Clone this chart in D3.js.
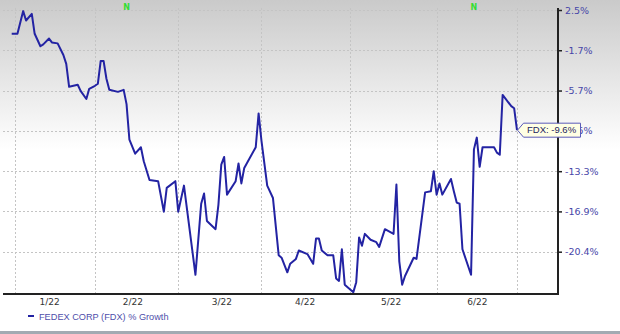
<!DOCTYPE html>
<html>
<head>
<meta charset="utf-8">
<script src="https://cdn.jsdelivr.net/npm/d3@7"></script>
<style>
  html, body { margin: 0; padding: 0; background: #fff; }
  svg { display: block; }
</style>
</head>
<body>
<svg id="chart" width="620" height="334"></svg>
<script>
// FDX % growth since 12/31/2021 (line vertices)
const dates = [
  '2021-12-31', '2022-01-02', '2022-01-04', '2022-01-05', '2022-01-07', '2022-01-08',
  '2022-01-10', '2022-01-11', '2022-01-13', '2022-01-14', '2022-01-16', '2022-01-18',
  '2022-01-19', '2022-01-20', '2022-01-23', '2022-01-24', '2022-01-26', '2022-01-27',
  '2022-01-29', '2022-01-30', '2022-01-31', '2022-02-01', '2022-02-02', '2022-02-03',
  '2022-02-06', '2022-02-08', '2022-02-09', '2022-02-10', '2022-02-12', '2022-02-14',
  '2022-02-15', '2022-02-17', '2022-02-20', '2022-02-22', '2022-02-23', '2022-02-26',
  '2022-02-27', '2022-03-01', '2022-03-05', '2022-03-07', '2022-03-08', '2022-03-09',
  '2022-03-12', '2022-03-13', '2022-03-14', '2022-03-15', '2022-03-16', '2022-03-19',
  '2022-03-20', '2022-03-21', '2022-03-22', '2022-03-26', '2022-03-27', '2022-03-28',
  '2022-03-30', '2022-04-01', '2022-04-03', '2022-04-04', '2022-04-06', '2022-04-07',
  '2022-04-09', '2022-04-10', '2022-04-13', '2022-04-15', '2022-04-16', '2022-04-17',
  '2022-04-18', '2022-04-20', '2022-04-22', '2022-04-23', '2022-04-24', '2022-04-25',
  '2022-04-26', '2022-04-29', '2022-04-30', '2022-05-01', '2022-05-02', '2022-05-03',
  '2022-05-05', '2022-05-07', '2022-05-08', '2022-05-10', '2022-05-13', '2022-05-14',
  '2022-05-15', '2022-05-16', '2022-05-17', '2022-05-20', '2022-05-21', '2022-05-24',
  '2022-05-26', '2022-05-27', '2022-05-28', '2022-05-29', '2022-05-30', '2022-06-02',
  '2022-06-03', '2022-06-04', '2022-06-05', '2022-06-06', '2022-06-09', '2022-06-10',
  '2022-06-11', '2022-06-12', '2022-06-13', '2022-06-17', '2022-06-18', '2022-06-19',
  '2022-06-20', '2022-06-23', '2022-06-24', '2022-06-25'
];
const growth = [
  0.0, 0.0, 2.4, 1.4, 2.1, 0.0,
  -1.3, -1.1, -0.5, -0.9, -1.0, -2.2,
  -3.1, -5.4, -5.2, -5.8, -6.6, -5.6,
  -5.3, -5.1, -2.8, -2.8, -4.6, -5.7,
  -5.9, -5.7, -7.1, -10.5, -11.8, -11.2,
  -12.5, -14.2, -14.3, -17.0, -14.9, -14.3,
  -17.0, -14.7, -22.3, -16.3, -15.4, -17.8,
  -18.5, -16.4, -12.8, -12.1, -15.5, -14.3,
  -12.7, -14.5, -13.1, -11.2, -8.0, -10.6,
  -14.7, -15.8, -20.7, -20.9, -22.1, -21.4,
  -21.0, -20.3, -20.6, -21.4, -19.3, -19.3,
  -20.3, -20.7, -20.7, -22.6, -22.8, -20.2,
  -23.1, -23.7, -22.9, -19.2, -19.9, -18.9,
  -19.4, -19.6, -20.0, -18.5, -18.9, -14.6,
  -21.2, -23.1, -22.4, -20.9, -21.0, -15.3,
  -15.2, -13.4, -15.5, -14.5, -15.5, -14.1,
  -15.2, -16.2, -16.3, -20.2, -22.3, -11.4,
  -10.3, -13.0, -11.2, -11.2, -11.7, -11.9,
  -6.2, -7.3, -7.5, -9.6
];

// right axis ticks (log-spaced growth levels) and their printed labels
const yTickVals = [2.52, -1.71, -5.77, -9.66, -13.40, -16.97, -20.40];
const yTickLabels = ['2.5%', '-1.7%', '-5.7%', '-9.5%', '-13.3%', '-16.9%', '-20.4%'];

// vertical grid dates and month label dates
const gridDates = ['2022-01-01', '2022-01-29', '2022-02-27', '2022-03-28', '2022-04-28', '2022-05-28', '2022-06-25'];
const monthDates = ['2022-01-13', '2022-02-11', '2022-03-14', '2022-04-12', '2022-05-12', '2022-06-11'];
const monthLabels = ['1/22', '2/22', '3/22', '4/22', '5/22', '6/22'];

const newsDates = ['2022-02-09', '2022-06-10'];
const seriesName = 'FEDEX CORP (FDX) % Growth';
const ticker = 'FDX';

const parse = d3.timeParse('%Y-%m-%d');
const W = 620, H = 334;
const plotLeft = 3, plotRight = 558, plotTop = 8, plotBottom = 294;

const svg = d3.select('#chart');

const x = d3.scaleTime()
  .domain([parse('2021-12-31'), parse('2022-06-25')])
  .range([11.7, 517]);
const y = d3.scaleLog()
  .domain([1 + yTickVals[0] / 100, 1 + yTickVals[yTickVals.length - 1] / 100])
  .range([10, 251.7]);

// background gradient
const defs = svg.append('defs');
const grad = defs.append('linearGradient').attr('id', 'bg')
  .attr('x1', 0).attr('y1', 0).attr('x2', 0).attr('y2', 1);
grad.append('stop').attr('offset', '0%').attr('stop-color', '#cacaca');
grad.append('stop').attr('offset', '100%').attr('stop-color', '#ffffff');
svg.append('rect').attr('width', W).attr('height', H).attr('fill', '#fff');
svg.append('rect').attr('width', W).attr('height', 150).attr('fill', 'url(#bg)');

// grid
const grid = svg.append('g').attr('stroke', '#c4c4c4').attr('stroke-dasharray', '2,2').attr('stroke-width', 1);
grid.selectAll('line.h').data(yTickVals).join('line').attr('class', 'h')
  .attr('x1', plotLeft).attr('x2', plotRight)
  .attr('y1', d => Math.round(y(1 + d / 100)) + 0.5)
  .attr('y2', d => Math.round(y(1 + d / 100)) + 0.5);
grid.selectAll('line.v').data(gridDates).join('line').attr('class', 'v')
  .attr('y1', plotTop).attr('y2', plotBottom)
  .attr('x1', d => Math.round(x(parse(d))) + 0.5)
  .attr('x2', d => Math.round(x(parse(d))) + 0.5);

// news markers
svg.selectAll('text.news').data(newsDates).join('text').attr('class', 'news')
  .attr('x', d => x(parse(d)))
  .attr('y', 10)
  .attr('text-anchor', 'middle')
  .attr('font-family', 'DejaVu Sans, sans-serif')
  .attr('font-size', 8)
  .attr('font-weight', 'bold')
  .attr('fill', '#33dd33')
  .text('N');

// series line
const line = d3.line()
  .x((d, i) => x(parse(dates[i])))
  .y(d => y(1 + d / 100));
svg.append('path').datum(growth)
  .attr('d', line)
  .attr('fill', 'none')
  .attr('stroke', '#2323a3')
  .attr('stroke-width', 2)
  .attr('stroke-linejoin', 'round');

// axes frame
svg.append('line').attr('x1', plotLeft).attr('x2', plotRight + 1)
  .attr('y1', plotBottom).attr('y2', plotBottom)
  .attr('stroke', '#222').attr('stroke-width', 2);
svg.append('line').attr('x1', plotRight).attr('x2', plotRight)
  .attr('y1', plotTop).attr('y2', plotBottom)
  .attr('stroke', '#222').attr('stroke-width', 2);

// right axis
const yAxis = d3.axisRight(y)
  .tickValues(yTickVals.map(d => 1 + d / 100))
  .tickFormat((d, i) => yTickLabels[i])
  .tickSize(4)
  .tickPadding(3);
const ya = svg.append('g').attr('transform', 'translate(' + plotRight + ',0)').call(yAxis);
ya.select('.domain').remove();
ya.selectAll('line').attr('stroke', '#222').attr('stroke-width', 1.5);
ya.selectAll('text')
  .attr('font-family', 'DejaVu Sans, Verdana, sans-serif')
  .attr('font-size', 9.5)
  .attr('fill', '#4646a8');

// bottom month labels
const xAxis = d3.axisBottom(x)
  .tickValues(monthDates.map(parse))
  .tickFormat((d, i) => monthLabels[i])
  .tickSize(0)
  .tickPadding(5);
const xa = svg.append('g').attr('transform', 'translate(0,' + plotBottom + ')').call(xAxis);
xa.select('.domain').remove();
xa.selectAll('text')
  .attr('font-family', 'DejaVu Sans, Verdana, sans-serif')
  .attr('font-size', 9)
  .attr('fill', '#333');

// legend
svg.append('line').attr('x1', 28).attr('x2', 34).attr('y1', 316).attr('y2', 316)
  .attr('stroke', '#2323a3').attr('stroke-width', 2);
svg.append('text').attr('x', 39).attr('y', 319.5)
  .attr('font-family', 'Liberation Sans, Arial, sans-serif')
  .attr('font-size', 9.2)
  .attr('fill', '#4e4eaa')
  .text(seriesName);

// bottom band
svg.append('rect').attr('x', 0).attr('y', 331).attr('width', W).attr('height', 3).attr('fill', '#a2aab2');

// last value flag
const lastX = x(parse(dates[dates.length - 1]));
const lastY = y(1 + growth[growth.length - 1] / 100);
const fx = lastX + 0.5, fy = lastY;
const tip = svg.append('g');
tip.append('path')
  .attr('d', 'M' + fx + ',' + fy +
    'L' + (fx + 6) + ',' + (fy - 7) +
    'L' + (fx + 63) + ',' + (fy - 7) +
    'L' + (fx + 63) + ',' + (fy + 7) +
    'L' + (fx + 6) + ',' + (fy + 7) + 'Z')
  .attr('fill', '#ffffe4')
  .attr('stroke', '#5a5ab8')
  .attr('stroke-width', 1);
tip.append('text')
  .attr('x', fx + 9.5).attr('y', fy + 3.3)
  .attr('font-family', 'Liberation Sans, Arial, sans-serif')
  .attr('font-size', 9.5)
  .attr('fill', '#23235e')
  .text(ticker + ': ' + growth[growth.length - 1].toFixed(1) + '%');
</script>
</body>
</html>
